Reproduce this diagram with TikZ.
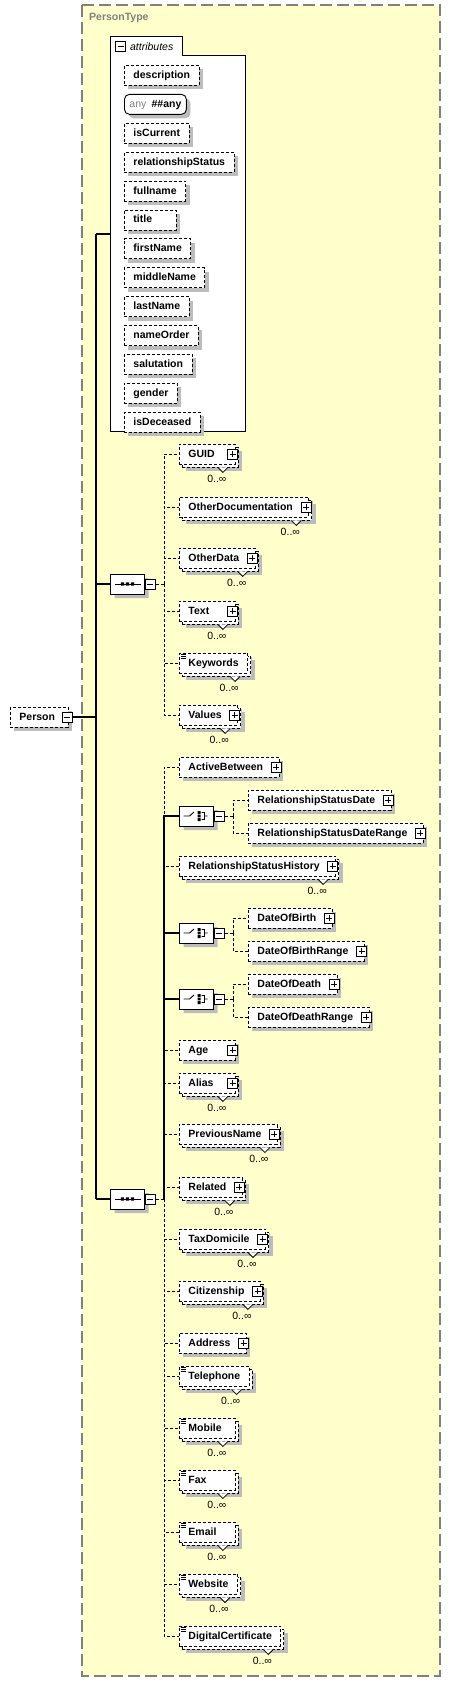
\documentclass[tikz,border=0pt]{standalone}
\usepackage{fontspec}
\setmainfont{Liberation Sans}
\usepackage{tikz}
\usetikzlibrary{positioning, shapes.misc, shadows}

\definecolor{typeyellow}{RGB}{255,255,204}
\definecolor{shadowgray}{RGB}{188,188,188}
\definecolor{framegray}{RGB}{128,128,128}

\begin{document}
\begin{tikzpicture}[
        x=1pt, y=-1pt,
        font=\fontsize{10.5}{12}\selectfont,
        frame/.style={draw=framegray, fill=typeyellow, line width=1.5pt, dash pattern=on 12pt off 5pt},
        attrbox/.style={draw, fill=white, line width=1pt},
        elem/.style={rectangle, draw, fill=white, line width=0.9pt, dash pattern=on 3pt off 2pt,
            minimum height=20pt, inner xsep=9pt, inner ysep=0pt, text height=8pt, text depth=2pt,
            font=\fontsize{10.5}{12}\selectfont\bfseries,
            general shadow={fill=shadowgray, draw=none, shadow xshift=4pt, shadow yshift=-4pt}},
        attr/.style={elem},
        anyattr/.style={rectangle, rounded corners=5pt, draw, fill=white, line width=0.9pt,
            minimum height=20pt, inner xsep=5pt, inner ysep=0pt, text height=8pt, text depth=2pt,
            font=\fontsize{10.5}{12}\selectfont\bfseries,
            general shadow={fill=shadowgray, draw=none, shadow xshift=4pt, shadow yshift=-4pt}},
        multi/.style={
            general shadow={fill=shadowgray, draw=none, shadow xshift=7pt, shadow yshift=-7pt},
            general shadow={fill=white, draw=black, line width=0.9pt, dash pattern=on 3pt off 2pt,
                shadow xshift=3pt, shadow yshift=-3pt}},
        short/.style={text width=#1}, short/.default=38pt,
        plusbox/.style={rectangle, draw, solid, line width=0.8pt, fill=white, minimum size=10pt, inner sep=0pt,
            path picture={\draw[line width=0.8pt] ([xshift=2pt]path picture bounding box.west) -- ([xshift=-2pt]path picture bounding box.east)
                ([yshift=-2pt]path picture bounding box.north) -- ([yshift=2pt]path picture bounding box.south);}},
        minusbox/.style={rectangle, draw, solid, line width=0.8pt, fill=white, minimum size=10pt, inner sep=0pt,
            path picture={\draw[line width=0.8pt] ([xshift=2pt]path picture bounding box.west) -- ([xshift=-2pt]path picture bounding box.east);}},
        hasplus/.style={execute at end node={\hspace{7pt}}, label={[plusbox, anchor=east, xshift=2pt]east:}},
        hasminus/.style={execute at end node={\hspace{4pt}}, label={[minusbox, anchor=east, xshift=4pt]east:}},
        seqbox/.style={chamfered rectangle, chamfered rectangle xsep=4pt, draw, line width=1pt, fill=white,
            minimum width=34pt, minimum height=20pt, inner sep=0pt,
            general shadow={fill=shadowgray, draw=none, shadow xshift=4pt, shadow yshift=-4pt}},
        icon/.style={draw=black, line width=0.9pt},
        vmark/.style={fill=white, draw, line width=0.8pt},
        occurs/.style={inner sep=0pt, font=\fontsize{10.5}{12}\selectfont},
        req/.style={draw, line width=1.2pt},
        opt/.style={draw, line width=1pt, dash pattern=on 3pt off 2pt}
    ]

    % Define the frame of the type
    \fill[white] (0,0) rectangle (451,1682);
    \useasboundingbox (0,0) rectangle (451,1682);
    \draw[frame] (82,5) rectangle (440,1676);
    \node[right, inner sep=0pt, text=framegray, font=\fontsize{10.5}{12}\selectfont\bfseries] (typeName) at (89,18) {PersonType};

    % Define the attribute group
    \draw[attrbox] (110,431) -- (110,36) -- (182,36) -- (182,55) -- (245,55) -- (245,431) -- cycle;
    \node[minusbox] (attrMinus) at (120.5,46.5) {};
    \node[right=4pt of attrMinus, inner sep=0pt, font=\fontsize{10.5}{12}\selectfont\itshape] (attrTitle) {attributes};

    % Define the attributes
    \node[attr, anchor=north west] (aDescription) at (124,65) {description};
    \node[anyattr, below right=8pt and 0pt of aDescription.south west] (aAny) {{\color{framegray}\mdseries any}\enspace\#\#any};
    \node[attr, below right=8pt and 0pt of aAny.south west] (aIsCurrent) {isCurrent};
    \node[attr, below right=8pt and 0pt of aIsCurrent.south west] (aRelStatus) {relationshipStatus};
    \node[attr, below right=8pt and 0pt of aRelStatus.south west] (aFullname) {fullname};
    \node[attr, short=34pt, below right=8pt and 0pt of aFullname.south west] (aTitle) {title};
    \node[attr, below right=8pt and 0pt of aTitle.south west] (aFirstName) {firstName};
    \node[attr, below right=8pt and 0pt of aFirstName.south west] (aMiddleName) {middleName};
    \node[attr, below right=8pt and 0pt of aMiddleName.south west] (aLastName) {lastName};
    \node[attr, below right=8pt and 0pt of aLastName.south west] (aNameOrder) {nameOrder};
    \node[attr, below right=8pt and 0pt of aNameOrder.south west] (aSalutation) {salutation};
    \node[attr, below right=8pt and 0pt of aSalutation.south west] (aGender) {gender};
    \node[attr, below right=8pt and 0pt of aGender.south west] (aIsDeceased) {isDeceased};

    % Define the root element and the trunk
    \node[elem, hasminus, right] (person) at (10,717) {Person};
    \coordinate (trunkTop) at (96,234);
    \coordinate (trunkMid) at (96,717);
    \coordinate (trunkBot) at (96,1199);
    \coordinate (attrJoin) at (110,234);

    % Define the first sequence
    \node[seqbox, right] (seqA) at (110,584) {};
    \node[minusbox, right=0pt of seqA] (seqAm) {};
    \coordinate (busA) at (164,584);

    \node[elem, hasplus, multi, short, right] (guid) at (179,454) {GUID};
    \node[elem, hasplus, multi, right] (otherDoc) at (179,507) {OtherDocumentation};
    \node[elem, hasplus, multi, right] (otherData) at (179,558) {OtherData};
    \node[elem, hasplus, multi, short, right] (text) at (179,611) {Text};
    \node[elem, multi, right] (keywords) at (179,663) {Keywords};
    \node[elem, hasplus, multi, right] (values) at (179,715) {Values};

    % Define the second sequence
    \node[seqbox, right] (seqB) at (110,1199) {};
    \node[minusbox, right=0pt of seqB] (seqBm) {};
    \coordinate (busB) at (164,1199);

    \node[elem, hasplus, right] (activeBetween) at (179,767) {ActiveBetween};

    \node[seqbox, right] (chA) at (179,816) {};
    \node[minusbox, right=0pt of chA] (chAm) {};
    \coordinate (chBusA) at (233,816);
    \node[elem, hasplus, right] (relStatusDate) at (248,800) {RelationshipStatusDate};
    \node[elem, hasplus, right] (relStatusDateRange) at (248,833) {RelationshipStatusDateRange};

    \node[elem, hasplus, multi, right] (relStatusHist) at (179,866) {RelationshipStatusHistory};

    \node[seqbox, right] (chB) at (179,933) {};
    \node[minusbox, right=0pt of chB] (chBm) {};
    \coordinate (chBusB) at (233,933);
    \node[elem, hasplus, right] (dateOfBirth) at (248,918) {DateOfBirth};
    \node[elem, hasplus, right] (dateOfBirthRange) at (248,951) {DateOfBirthRange};

    \node[seqbox, right] (chC) at (179,999) {};
    \node[minusbox, right=0pt of chC] (chCm) {};
    \coordinate (chBusC) at (233,999);
    \node[elem, hasplus, right] (dateOfDeath) at (248,984) {DateOfDeath};
    \node[elem, hasplus, right] (dateOfDeathRange) at (248,1017) {DateOfDeathRange};

    \node[elem, hasplus, short, right] (age) at (179,1050) {Age};
    \node[elem, hasplus, multi, short, right] (alias) at (179,1083) {Alias};
    \node[elem, hasplus, multi, right] (prevName) at (179,1134) {PreviousName};
    \node[elem, hasplus, multi, right] (related) at (179,1187) {Related};
    \node[elem, hasplus, multi, right] (taxDomicile) at (179,1239) {TaxDomicile};
    \node[elem, hasplus, multi, right] (citizenship) at (179,1291) {Citizenship};
    \node[elem, hasplus, right] (address) at (179,1343) {Address};
    \node[elem, multi, right] (telephone) at (179,1376) {Telephone};
    \node[elem, multi, short, right] (mobile) at (179,1428) {Mobile};
    \node[elem, multi, short, right] (fax) at (179,1480) {Fax};
    \node[elem, multi, short, right] (email) at (179,1532) {Email};
    \node[elem, multi, right] (website) at (179,1584) {Website};
    \node[elem, multi, right] (digitalCert) at (179,1636) {DigitalCertificate};

    % Draw the group icons
    \foreach \n in {seqA, seqB} {
        \draw[icon] ([xshift=-13pt]\n.center) -- ([xshift=13pt]\n.center);
        \fill[black] ([xshift=-5pt]\n.center) +(-1.6pt,-1.6pt) rectangle +(1.6pt,1.6pt)
            (\n.center) +(-1.6pt,-1.6pt) rectangle +(1.6pt,1.6pt)
            ([xshift=5pt]\n.center) +(-1.6pt,-1.6pt) rectangle +(1.6pt,1.6pt);
    }
    \foreach \n in {chA, chB, chC} {
        \begin{scope}[shift={(\n.center)}]
            \draw[icon] (-13pt,0pt) -- (-7pt,0pt) -- (-2.5pt,4pt)
                (5pt,3.5pt) -- (8pt,3.5pt) -- (8pt,-3.5pt) -- (5pt,-3.5pt) (8pt,0pt) -- (11pt,0pt);
            \fill[black] (1pt,2.2pt) rectangle (4pt,5pt) (1pt,-1.4pt) rectangle (4pt,1.4pt) (1pt,-5pt) rectangle (4pt,-2.2pt);
        \end{scope}
    }

    % Draw the simple content marks
    \foreach \n in {keywords, telephone, mobile, fax, email, website, digitalCert} {
        \draw[black, line width=0.7pt] ([shift={(2pt,-1.5pt)}]\n.north west) -- ++(5pt,0pt)
            ([shift={(2pt,-3.5pt)}]\n.north west) -- ++(5pt,0pt)
            ([shift={(2pt,-5.5pt)}]\n.north west) -- ++(5pt,0pt);
    }

    % Draw the occurrence marks
    \foreach \n in {guid, otherDoc, otherData, text, keywords, values, relStatusHist, alias, prevName,
                    related, taxDomicile, citizenship, telephone, mobile, fax, email, website, digitalCert} {
        \path[vmark] ([xshift=-18pt, yshift=-3pt]\n.south east) -- ++(5pt,-5pt) -- ++(5pt,5pt);
        \node[occurs] at ([xshift=-19pt, yshift=-14pt]\n.south east) {0..∞};
    }

    % Draw the trunk
    \draw[req] ([xshift=4pt]person.east) -- (trunkMid);
    \draw[req] (trunkTop) -- (trunkBot);
    \draw[req] (trunkTop) -- (attrJoin);
    \draw[req] (trunkTop |- seqA) -- (seqA);
    \draw[req] (trunkBot) -- (seqB);

    % Draw the first sequence
    \draw[opt] (seqAm) -- (busA);
    \draw[opt] (busA) |- (guid);
    \draw[opt] (busA) |- (otherDoc);
    \draw[opt] (busA) |- (otherData);
    \draw[opt] (busA) |- (text);
    \draw[opt] (busA) |- (keywords);
    \draw[opt] (busA) |- (values);

    % Draw the second sequence
    \draw[opt] (seqBm) -- (busB);
    \draw[opt] (busB) |- (activeBetween);
    \draw[req] (busB) |- (chA);
    \draw[req] (busB) |- (chB);
    \draw[req] (busB) |- (chC);
    \draw[opt] (busB) |- (relStatusHist);
    \draw[opt] (busB) |- (age);
    \draw[opt] (busB) |- (alias);
    \draw[opt] (busB) |- (prevName);
    \draw[opt] (busB) |- (related);
    \draw[opt] (busB) |- (taxDomicile);
    \draw[opt] (busB) |- (citizenship);
    \draw[opt] (busB) |- (address);
    \draw[opt] (busB) |- (telephone);
    \draw[opt] (busB) |- (mobile);
    \draw[opt] (busB) |- (fax);
    \draw[opt] (busB) |- (email);
    \draw[opt] (busB) |- (website);
    \draw[opt] (busB) |- (digitalCert);

    % Draw the choices
    \draw[opt] (chAm) -- (chBusA);
    \draw[opt] (chBusA) |- (relStatusDate);
    \draw[opt] (chBusA) |- (relStatusDateRange);
    \draw[opt] (chBm) -- (chBusB);
    \draw[opt] (chBusB) |- (dateOfBirth);
    \draw[opt] (chBusB) |- (dateOfBirthRange);
    \draw[opt] (chCm) -- (chBusC);
    \draw[opt] (chBusC) |- (dateOfDeath);
    \draw[opt] (chBusC) |- (dateOfDeathRange);
\end{tikzpicture}
\end{document}
